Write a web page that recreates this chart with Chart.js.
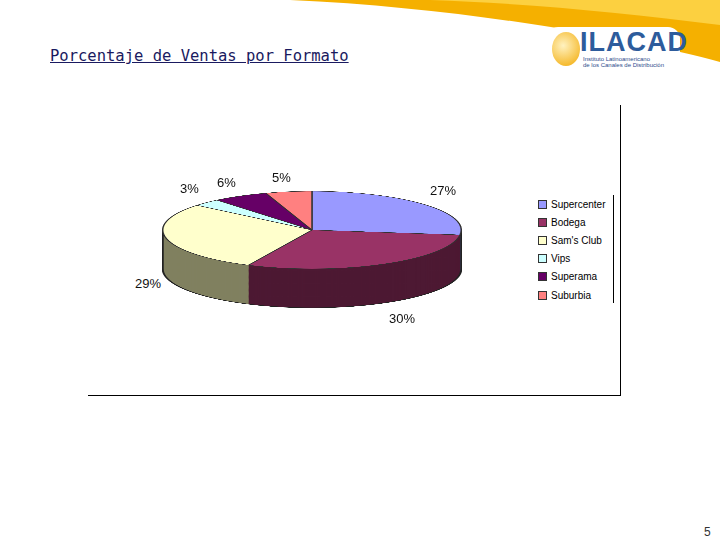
<!DOCTYPE html>
<html><head><meta charset="utf-8">
<script src="https://cdn.jsdelivr.net/npm/chart.js@4"></script>
<style>
body{margin:0;width:720px;height:540px;position:relative;overflow:hidden;background:#fff;font-family:"Liberation Sans",Arial,sans-serif}
.abs{position:absolute}
#title{left:50px;top:47px;font-family:"DejaVu Sans Mono";font-size:15.5px;color:#1a1a60;text-decoration:underline}
#wrap{left:162px;top:80px;width:300px;height:460px;transform:scaleY(0.26);transform-origin:150px 150px}
.lab{font-size:13px;color:#111}
#legend{left:538px;top:195px;width:75px;height:108px;border-right:1px solid #000;font-size:10px}
.li{height:18.2px;display:flex;align-items:center}
.sw{width:7px;height:7px;border:1px solid #333;margin-right:4px}
</style></head><body>
<svg class="abs" style="left:0;top:0" width="720" height="70">
<path d="M290 0 L720 0 L720 62 C640 40 470 8 290 0Z" fill="#f5b000"/>
<path d="M430 0 L720 0 L720 25 C620 12 520 3 430 0Z" fill="#fcd040"/>
</svg>
<div class="abs" style="left:546px;top:27px;width:134px;height:44px;background:#fff;border-radius:12px"></div>
<div class="abs" style="left:552px;top:32px;width:28px;height:34px;border-radius:50%;background:radial-gradient(circle at 40% 40%,#fff2c0,#f2a800)"></div>
<div class="abs" style="left:580px;top:27px;font-size:27px;font-weight:bold;color:#2d5c9c;letter-spacing:1px">ILACAD</div>
<div class="abs" style="left:583px;top:56px;font-size:6px;color:#2d4c8c;line-height:6px">Instituto Latinoamericano<br>de los Canales de Distribución</div>
<div id="title" class="abs">Porcentaje de Ventas por Formato</div>
<div class="abs" style="left:620px;top:105px;width:1px;height:291px;background:#000"></div>
<div class="abs" style="left:88px;top:395px;width:533px;height:1px;background:#000"></div>
<div id="wrap" class="abs"><canvas id="c" width="300" height="460"></canvas></div>
<div id="legend" class="abs"></div>
<div class="abs" style="left:704px;top:525px;font-size:12px;color:#333">5</div>
<script>
const categories=["Supercenter","Bodega","Sam's Club","Vips","Superama","Suburbia"];
const values=[27,30,29,3,6,5];
const topColors=["#9999ff","#993366","#ffffcc","#ccffff","#660066","#ff8080"];
const sideColors=["#4c4c80","#4d1933","#808060","#668080","#330033","#804040"];
const labelPos=[[430,183],[389,311],[135,276],[180,181],[217,175],[272,170]];
const DEPTH=150;
const depthPlugin={id:'depth',beforeDatasetsDraw(chart){
  const ctx=chart.ctx;const meta=chart.getDatasetMeta(0);
  for(let dy=DEPTH;dy>0;dy-=1){
    meta.data.forEach((a,i)=>{
      ctx.beginPath();ctx.moveTo(a.x,a.y+dy);
      ctx.arc(a.x,a.y+dy,a.outerRadius,a.startAngle,a.endAngle);ctx.closePath();
      ctx.fillStyle=sideColors[i];ctx.fill();
    });
  }
  const a=meta.data[0];
  ctx.beginPath();ctx.arc(a.x,a.y+DEPTH,a.outerRadius,0,Math.PI);ctx.strokeStyle='#222';ctx.lineWidth=2;ctx.stroke();
  ctx.beginPath();ctx.moveTo(a.x-a.outerRadius,a.y);ctx.lineTo(a.x-a.outerRadius,a.y+DEPTH);ctx.moveTo(a.x+a.outerRadius,a.y);ctx.lineTo(a.x+a.outerRadius,a.y+DEPTH);ctx.stroke();
}};
new Chart(document.getElementById('c'),{type:'pie',
 data:{labels:categories,datasets:[{data:values,backgroundColor:topColors,borderColor:'#333',borderWidth:1.5}]},
 options:{responsive:false,animation:false,devicePixelRatio:2,layout:{padding:{top:0,bottom:160}},
  plugins:{legend:{display:false},tooltip:{enabled:false}}},
 plugins:[depthPlugin]});
const lg=document.getElementById('legend');
categories.forEach((c,i)=>{lg.innerHTML+=`<div class="li"><span class="sw" style="background:${topColors[i]}"></span>${c}</div>`;
 const d=document.createElement('div');d.className='abs lab';d.style.left=labelPos[i][0]+'px';d.style.top=labelPos[i][1]+'px';d.textContent=values[i]+'%';document.body.appendChild(d);});
</script>
</body></html>
